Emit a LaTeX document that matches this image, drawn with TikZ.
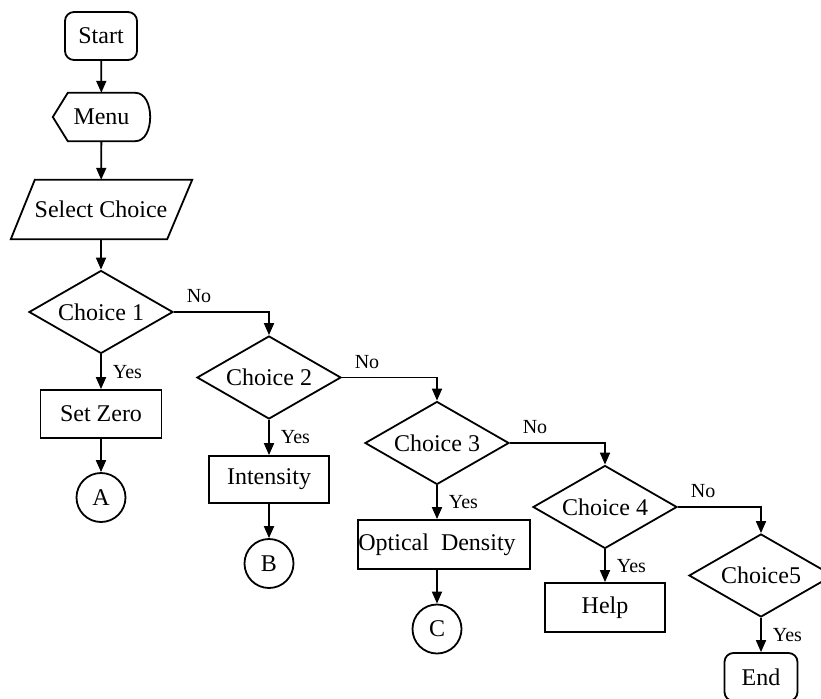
\documentclass[tikz,border=0pt]{standalone}
\usepackage{fontspec}
\setmainfont{Liberation Serif}
\usetikzlibrary{shapes.geometric,arrows.meta,calc}
\begin{document}
\begin{tikzpicture}[x=1pt,y=-1pt,
  every node/.style={font=\fontsize{24}{28}\selectfont, inner sep=0pt},
  base/.style={draw, line width=1.8pt},
  term/.style={base, rectangle, rounded corners=9pt, minimum width=72pt, minimum height=48pt},
  proc/.style={base, rectangle, minimum width=120pt, minimum height=48pt},
  dec/.style={base, diamond, aspect=1.73, minimum width=144pt, minimum height=83pt},
  conn/.style={base, circle, minimum size=49pt},
  arr/.style={line width=1.8pt, -{Triangle[length=12pt,width=10pt]}},
  lbl/.style={font=\fontsize{20}{22}\selectfont, inner sep=0pt},
  yes/.style={lbl, anchor=west, xshift=11pt},
  no/.style={lbl, anchor=south west, xshift=12pt, yshift=8pt}
]
\useasboundingbox (0,0) rectangle (821,698);

% nodes
\node[term] (start) at (101,36) {Start};
\node[rectangle, minimum width=97pt, minimum height=48pt] (menu) at (101.5,117) {Menu};
\draw[line width=1.8pt] (menu.west) -- ([xshift=15pt]menu.north west) -- ([xshift=-15pt]menu.north east)
  .. controls ([xshift=5pt]menu.north east) and ([xshift=5pt]menu.south east) .. ([xshift=-15pt]menu.south east)
  -- ([xshift=15pt]menu.south west) -- cycle;
\node[rectangle, minimum width=157pt, minimum height=59pt] (sel) at (101,209.5) {Select Choice};
\draw[line width=1.8pt] ([xshift=12.5pt]sel.north west) -- ([xshift=12.5pt]sel.north east)
  -- ([xshift=-12.5pt]sel.south east) -- ([xshift=-11.5pt]sel.south west) -- cycle;

\node[dec] (c1) at (101,312) {Choice 1};
\node[dec] (c2) at (269,377.5) {Choice 2};
\node[dec] (c3) at (437,443) {Choice 3};
\node[dec] (c4) at (605,507) {Choice 4};
\node[dec] (c5) at (761,575.5) {Choice5};

\node[proc, minimum width=121pt] (zero) at (101,414) {Set Zero};
\node[proc, minimum height=47pt] (int) at (269,479.5) {Intensity};
\node[proc, minimum width=172pt, minimum height=49pt] (od) at (444,544.5) {Optical\ \ Density\hspace*{14pt}};
\node[proc, minimum height=49pt] (help) at (605,607.5) {Help};
\node[term, minimum width=73pt] (end) at (761,677) {End};

\node[conn] (A) at (101,497.5) {A};
\node[conn] (B) at (269,563.5) {B};
\node[conn] (C) at (437,629) {C};

% connectors
\draw[arr] (start) -- (menu);
\draw[arr] (menu) -- (sel);
\draw[arr] (sel) -- (c1);

\draw[arr] (c1) -- node[yes]{Yes} (zero);
\draw[arr] (zero) -- (A);
\draw[arr] (c1.east) node[no]{No} -| (c2.north);

\draw[arr] (c2) -- node[yes]{Yes} (int);
\draw[arr] (int) -- (B);
\draw[arr] (c2.east) node[no]{No} -| (c3.north);

\draw[arr] (c3.south) -- node[yes]{Yes} (c3.south |- od.north);
\draw[arr] (C.north |- od.south) -- (C);
\draw[arr] (c3.east) node[no]{No} -| (c4.north);

\draw[arr] (c4) -- node[yes]{Yes} (help);
\draw[arr] (c4.east) node[no]{No} -| (c5.north);

\draw[arr] (c5) -- node[yes]{Yes} (end);
\end{tikzpicture}
\end{document}
